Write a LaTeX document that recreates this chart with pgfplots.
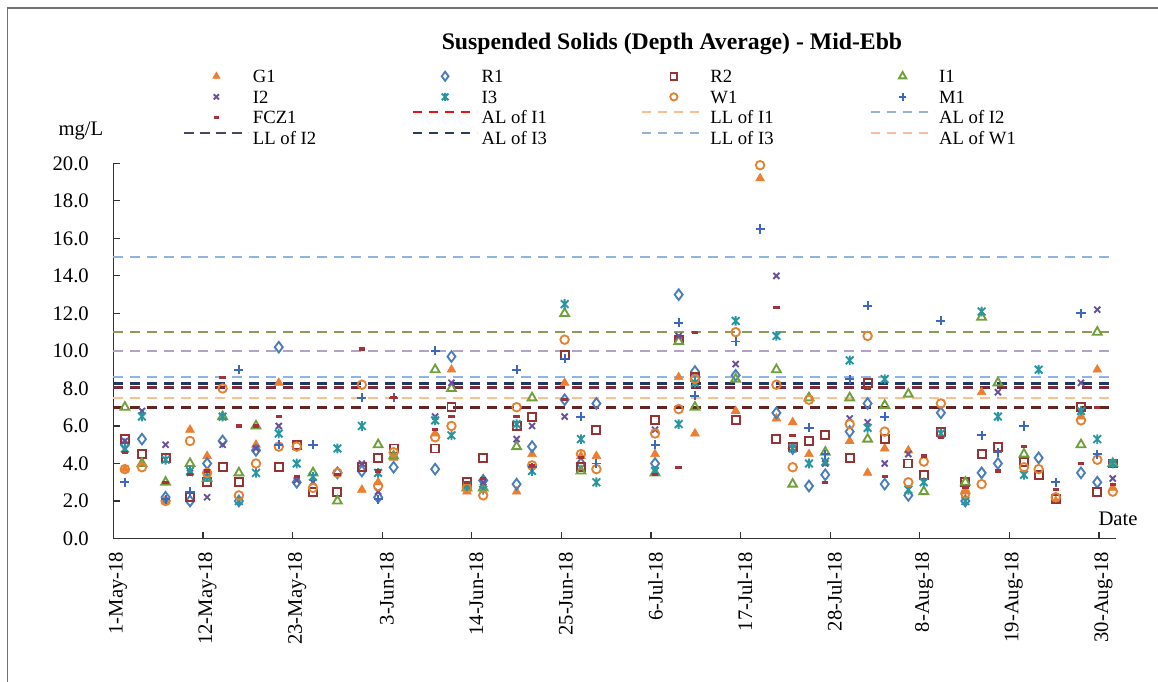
\documentclass[border=0pt]{standalone}
\usepackage{pgfplots}
\pgfplotsset{compat=1.18}
\usepackage{fontspec}
\setmainfont{Liberation Serif}
\usetikzlibrary{plotmarks}

\definecolor{cG1}{RGB}{237,125,49}
\definecolor{cR1}{RGB}{74,126,187}
\definecolor{cR2}{RGB}{150,52,52}
\definecolor{cI1}{RGB}{112,160,60}
\definecolor{cI2}{RGB}{105,80,155}
\definecolor{cI3}{RGB}{40,150,160}
\definecolor{cW1}{RGB}{226,130,50}
\definecolor{cM1}{RGB}{60,105,190}
\definecolor{cF}{RGB}{165,50,55}
% plotted limit lines
\definecolor{lBlue}{RGB}{141,180,226}
\definecolor{lOlive}{RGB}{140,155,90}
\definecolor{lLav}{RGB}{179,162,199}
\definecolor{lNavy}{RGB}{31,56,100}
\definecolor{lMaroon}{RGB}{125,40,60}
\definecolor{lOrange}{RGB}{250,192,144}
\definecolor{lDark}{RGB}{99,37,35}
% legend line colours
\definecolor{gRed}{RGB}{230,20,20}
\definecolor{gOrange}{RGB}{245,190,150}
\definecolor{gBlue}{RGB}{149,179,215}
\definecolor{gSlate}{RGB}{70,70,105}
\definecolor{gNavy}{RGB}{40,60,95}

\pgfdeclareplotmark{xstar}{%
  \pgfpathmoveto{\pgfqpoint{-0.8\pgfplotmarksize}{-0.8\pgfplotmarksize}}%
  \pgfpathlineto{\pgfqpoint{0.8\pgfplotmarksize}{0.8\pgfplotmarksize}}%
  \pgfpathmoveto{\pgfqpoint{-0.8\pgfplotmarksize}{0.8\pgfplotmarksize}}%
  \pgfpathlineto{\pgfqpoint{0.8\pgfplotmarksize}{-0.8\pgfplotmarksize}}%
  \pgfpathmoveto{\pgfqpoint{0pt}{-\pgfplotmarksize}}%
  \pgfpathlineto{\pgfqpoint{0pt}{\pgfplotmarksize}}%
  \pgfusepathqstroke}

\pgfplotsset{
  scatterlegend/.style={legend image code/.code={%
    \path[draw=none,fill=none] (0pt,0pt) (48pt,0pt);
    \draw[##1, every mark/.append style={scale=0.85}] plot coordinates {(24pt,0pt)};}},
  hlinelegend/.style={legend image code/.code={%
    \draw[##1] (0pt,4pt) -- (48pt,4pt);}},
  limline/.style={forget plot, line width=1.5pt, dash pattern=on 7.5pt off 5.25pt},
  darkline/.style={forget plot, line width=2.2pt, dash pattern=on 7.5pt off 5.25pt},
  mk/.style={only marks, scatterlegend, mark options={solid, line width=1.4pt}},
}

\newcommand{\LE}[1]{\makebox[119.25pt][l]{\rule[-5pt]{0pt}{15.75pt}#1}}

\begin{document}
\begin{tikzpicture}
\begin{axis}[
  at={(0pt,0pt)}, anchor=south west,
  scale only axis, width=751.9pt, height=281.4pt,
  xmin=0, xmax=123.1, ymin=0, ymax=20,
  axis lines*=left,
  axis line style={line width=1.1pt, color=black!80},
  tick align=inside, major tick length=5.25pt,
  tick style={line width=0.9pt, color=black!80},
  xtick={0,11,...,121},
  xticklabels={1-May-18,12-May-18,23-May-18,3-Jun-18,14-Jun-18,25-Jun-18,6-Jul-18,17-Jul-18,28-Jul-18,8-Aug-18,19-Aug-18,30-Aug-18},
  ytick={0,2,...,20},
  /pgf/number format/assume math mode=true,
  yticklabel style={/pgf/number format/fixed, /pgf/number format/fixed zerofill, /pgf/number format/precision=1, xshift=-15pt},
  tick label style={font=\fontsize{15.5}{15.5}\selectfont},
  xticklabel style={rotate=90, anchor=east, xshift=-6.45pt, yshift=-3.4pt},
  clip=false,
  legend columns=4,
  legend cell align=left,
  legend style={draw=none, fill=none, at={(0.0693,1.2545)}, anchor=north west,
    font=\fontsize{14}{15.75}\selectfont, inner sep=0pt, row sep=3.2pt,
    nodes={inner sep=0pt},
    /tikz/every odd column/.append style={column sep=2.5pt}},
]
% limit lines
\addplot[limline, lBlue] coordinates {(0,15) (122.2,15)};
\addplot[limline, lOlive] coordinates {(0,11) (122.2,11)};
\addplot[limline, lLav] coordinates {(0,10) (122.2,10)};
\addplot[limline, lBlue] coordinates {(0,8.6) (122.2,8.6)};
\addplot[darkline, lNavy] coordinates {(0,8.27) (122.2,8.27)};
\addplot[darkline, lMaroon] coordinates {(0,8.05) (122.2,8.05)};
\addplot[limline, lOrange] coordinates {(0,7.5) (122.2,7.5)};
\addplot[darkline, lDark] coordinates {(0,7.0) (122.2,7.0)};

% G1
\addplot[mk, mark=triangle*, mark size=3.8pt, cG1, mark options={fill=cG1}] coordinates {
(1.4,3.7)(3.5,4.0)(6.4,2.0)(9.4,5.8)(11.5,4.4)(17.5,5.0)(20.3,8.3)(30.5,2.6)(32.5,3.0)(34.4,4.3)
(39.5,5.6)(41.5,9.0)(43.4,2.5)(49.5,2.5)(51.4,4.5)(55.4,8.3)(57.4,4.4)(59.3,4.4)(66.5,4.5)(69.4,8.6)
(71.4,5.6)(76.4,6.8)(79.4,19.2)(81.4,6.4)(83.4,6.2)(85.4,4.5)(90.4,5.2)(92.6,3.5)(94.7,4.8)(97.6,4.7)
(104.6,2.5)(106.6,7.8)(115.7,2.0)(118.8,6.5)(120.8,9.0)(122.7,2.7)};
% R1
\addplot[mk, mark=diamond, mark size=4pt, cR1] coordinates {
(1.4,5.0)(3.5,5.3)(6.4,2.2)(9.4,2.0)(11.5,4.0)(13.4,5.2)(15.4,2.0)(17.5,4.7)(20.3,10.2)(22.5,3.0)
(27.5,3.5)(30.5,3.6)(32.5,2.2)(34.4,3.8)(39.5,3.7)(41.5,9.7)(45.4,3.1)(49.5,2.9)(51.4,4.9)(55.4,7.4)
(57.4,4.0)(59.3,7.2)(66.5,4.0)(69.4,13.0)(71.4,8.9)(76.4,8.7)(81.4,6.7)(83.4,4.8)(85.4,2.8)(87.4,3.4)
(90.4,5.7)(92.6,7.2)(94.7,2.9)(97.6,2.3)(101.6,6.7)(104.6,2.0)(106.6,3.5)(108.6,4.0)(113.6,4.3)(118.8,3.5)(120.8,3.0)};
% R2
\addplot[mk, mark=square, mark size=3pt, cR2] coordinates {
(1.4,5.3)(3.5,4.5)(6.4,4.3)(9.4,2.2)(11.5,3.0)(13.4,3.8)(15.4,3.0)(20.3,3.8)(22.5,5.0)(24.5,2.5)
(27.5,2.5)(30.5,3.8)(32.5,4.3)(34.4,4.8)(39.5,4.8)(41.5,7.0)(43.4,3.0)(45.4,4.3)(49.5,6.0)(51.4,6.5)
(55.4,9.8)(57.4,3.8)(59.3,5.8)(66.5,6.3)(69.4,10.6)(71.4,8.6)(76.4,6.3)(81.4,5.3)(83.4,4.9)(85.4,5.2)
(87.4,5.5)(90.4,4.3)(92.6,8.3)(94.7,5.3)(97.6,4.0)(99.5,3.4)(101.6,5.7)(104.6,3.0)(106.6,4.5)(108.6,4.9)
(111.8,4.1)(113.6,3.4)(115.7,2.1)(118.8,7.0)(120.8,2.5)(122.7,4.0)};
% I1
\addplot[mk, mark=triangle, mark size=3.8pt, cI1] coordinates {
(1.4,7.0)(3.5,4.0)(6.4,3.0)(9.4,4.0)(11.5,3.2)(13.4,6.5)(15.4,3.5)(17.5,6.0)(24.5,3.5)(27.5,2.0)
(32.5,5.0)(34.4,4.4)(39.5,9.0)(41.5,8.0)(43.4,2.7)(45.4,2.7)(49.5,4.9)(51.4,7.5)(55.4,12.0)(57.4,3.6)
(66.5,3.5)(69.4,10.5)(71.4,7.0)(76.4,8.5)(81.4,9.0)(83.4,2.9)(85.4,7.5)(87.4,4.6)(90.4,7.5)(92.6,5.3)
(94.7,7.1)(97.6,7.7)(99.5,2.5)(104.6,3.0)(106.6,11.8)(108.6,8.3)(111.8,4.5)(118.8,5.0)(120.8,11.0)(122.7,4.0)};
% I2
\addplot[mk, mark=x, mark size=3.2pt, cI2] coordinates {
(1.4,5.2)(3.5,6.8)(6.4,5.0)(9.4,3.5)(11.5,2.2)(13.4,5.0)(17.5,4.8)(20.3,6.0)(22.5,3.1)(24.5,3.0)
(30.5,4.0)(32.5,2.5)(39.5,6.5)(41.5,8.3)(45.4,3.0)(49.5,5.3)(51.4,6.0)(55.4,6.5)(66.5,5.8)(69.4,10.8)
(76.4,9.3)(81.4,14.0)(87.4,4.0)(90.4,6.4)(92.6,6.2)(94.7,4.0)(97.6,4.5)(108.6,7.8)(118.8,8.3)(120.8,12.2)(122.7,3.2)};
% I3
\addplot[mk, mark=xstar, mark size=3.6pt, cI3] coordinates {
(1.4,4.8)(3.5,6.5)(6.4,4.2)(9.4,3.6)(11.5,3.3)(13.4,6.5)(15.4,2.0)(17.5,3.5)(20.3,5.6)(22.5,4.0)
(24.5,3.3)(27.5,4.8)(30.5,6.0)(32.5,3.5)(39.5,6.3)(41.5,5.5)(43.4,2.8)(45.4,2.6)(49.5,6.1)(51.4,3.6)
(55.4,12.5)(57.4,5.3)(59.3,3.0)(66.5,3.6)(69.4,6.1)(71.4,8.3)(76.4,11.6)(81.4,10.8)(83.4,4.8)(85.4,4.0)
(87.4,4.1)(90.4,9.5)(92.6,5.9)(94.7,8.5)(97.6,2.6)(99.5,3.0)(101.6,5.6)(104.6,2.0)(106.6,12.1)(108.6,6.5)
(111.8,3.4)(113.6,9.0)(118.8,6.8)(120.8,5.3)(122.7,4.0)};
% W1
\addplot[mk, mark=o, mark size=3.2pt, cW1] coordinates {
(1.4,3.7)(3.5,3.8)(6.4,2.0)(9.4,5.2)(11.5,3.5)(13.4,8.0)(15.4,2.3)(17.5,4.0)(20.3,4.9)(22.5,4.9)
(24.5,2.7)(27.5,3.5)(30.5,8.2)(32.5,2.8)(34.4,4.6)(39.5,5.4)(41.5,6.0)(43.4,2.7)(45.4,2.3)(49.5,7.0)
(51.4,3.9)(55.4,10.6)(57.4,4.5)(59.3,3.7)(66.5,5.6)(69.4,6.9)(71.4,8.5)(76.4,11.0)(79.4,19.9)(81.4,8.2)
(83.4,3.8)(85.4,7.4)(90.4,6.1)(92.6,10.8)(94.7,5.7)(97.6,3.0)(99.5,4.1)(101.6,7.2)(104.6,2.4)(106.6,2.9)
(111.8,3.8)(113.6,3.7)(115.7,2.2)(118.8,6.3)(120.8,4.2)(122.7,2.5)};
% M1
\addplot[mk, mark=+, mark size=3.4pt, cM1] coordinates {
(1.4,3.0)(6.4,2.1)(9.4,2.5)(15.4,9.0)(20.3,5.0)(24.5,5.0)(30.5,7.5)(32.5,2.1)(34.4,7.5)(39.5,10.0)
(49.5,9.0)(51.4,3.8)(55.4,9.6)(57.4,6.5)(59.3,4.0)(66.5,5.0)(69.4,11.5)(71.4,7.6)(76.4,10.5)(79.4,16.5)
(85.4,5.9)(87.4,4.5)(90.4,8.5)(92.6,12.4)(94.7,6.5)(101.6,11.6)(106.6,5.5)(108.6,4.6)(111.8,6.0)(115.7,3.0)
(118.8,12.0)(120.8,4.5)};
% FCZ1
\addplot[only marks, scatterlegend, mark=-, mark size=2.4pt, cF, mark options={solid, line width=2.4pt}] coordinates {
(1.4,4.6)(6.4,3.0)(9.4,3.4)(11.5,3.6)(13.4,8.6)(15.4,6.0)(17.5,6.0)(20.3,6.5)(22.5,3.3)(27.5,3.4)
(30.5,10.1)(32.5,3.6)(34.4,7.5)(39.5,5.8)(41.5,6.5)(43.4,3.0)(45.4,3.2)(49.5,6.5)(51.4,3.9)(55.4,7.4)
(57.4,4.3)(66.5,3.4)(69.4,3.8)(71.4,11.0)(81.4,12.3)(83.4,5.5)(87.4,3.0)(92.6,8.0)(94.7,3.3)(99.5,4.4)
(101.6,5.4)(104.6,2.7)(108.6,3.6)(111.8,4.9)(115.7,2.6)(118.8,4.0)(120.8,7.0)(122.7,2.9)};

\addlegendimage{hlinelegend, gRed, line width=1.8pt, dash pattern=on 7pt off 5pt}
\addlegendimage{hlinelegend, gOrange, line width=1.8pt, dash pattern=on 7pt off 5pt}
\addlegendimage{hlinelegend, gBlue, line width=1.8pt, dash pattern=on 7pt off 5pt}
\addlegendimage{hlinelegend, gSlate, line width=1.8pt, dash pattern=on 7pt off 5pt}
\addlegendimage{hlinelegend, gNavy, line width=1.8pt, dash pattern=on 7pt off 5pt}
\addlegendimage{hlinelegend, gBlue, line width=1.8pt, dash pattern=on 7pt off 5pt}
\addlegendimage{hlinelegend, gOrange, line width=1.8pt, dash pattern=on 7pt off 5pt}
\legend{\LE{G1},\LE{R1},\LE{R2},\LE{I1},\LE{I2},\LE{I3},\LE{W1},\LE{M1},\LE{FCZ1},\LE{AL of I1},\LE{LL of I1},\LE{AL of I2},\LE{LL of I2},\LE{AL of I3},\LE{LL of I3},\LE{AL of W1}}
\end{axis}
\node[font=\bfseries\fontsize{17.8}{17.8}\selectfont] at (418.9pt,370.9pt) {Suspended Solids (Depth Average) - Mid-Ebb};
\node[font=\fontsize{15.5}{15.5}\selectfont] at (-24.4pt,305.6pt) {mg/L};
\node[font=\fontsize{15.5}{15.5}\selectfont] at (753.4pt,14.6pt) {Date};
\draw[black!55, line width=1pt] (-79.6pt,-120pt) -- (-79.6pt,397.9pt) -- (800pt,397.9pt);
\pgfresetboundingbox
\path[use as bounding box] (-85.1pt,-107.6pt) rectangle (783.4pt,403.9pt);
\end{tikzpicture}
\end{document}
